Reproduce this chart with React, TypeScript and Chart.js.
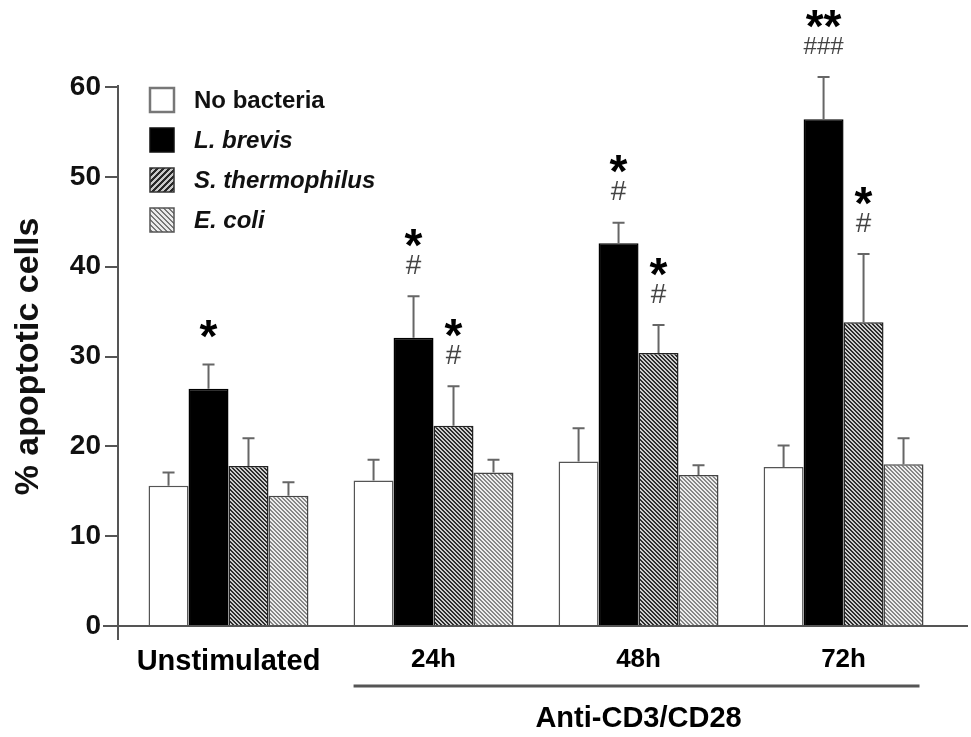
import React, { useEffect, useRef } from "react";
import { Chart, registerables } from "chart.js";

Chart.register(...registerables);

// ---------------- data ----------------
const categories = ["Unstimulated", "24h", "48h", "72h"];
const seriesNames = ["No bacteria", "L. brevis", "S. thermophilus", "E. coli"];
const noBacteria = [15.6, 16.2, 18.3, 17.7];
const lBrevis = [26.4, 32.1, 42.6, 56.4];
const sThermophilus = [17.8, 22.3, 30.4, 33.8];
const eColi = [14.5, 17.1, 16.8, 18.0];
const noBacteriaErr = [1.5, 2.3, 3.7, 2.4];
const lBrevisErr = [2.7, 4.6, 2.3, 4.7];
const sThermophilusErr = [3.1, 4.4, 3.1, 7.6];
const eColiErr = [1.5, 1.4, 1.1, 2.9];
const lBrevisStars = ["*", "*", "*", "**"];
const lBrevisHashes = ["", "#", "#", "###"];
const sThermophilusStars = ["", "*", "*", "*"];
const sThermophilusHashes = ["", "#", "#", "#"];
const yTicks = [0, 10, 20, 30, 40, 50, 60];
const yTitle = "% apoptotic cells";
const groupTitle = "Anti-CD3/CD28";

const FONT = "'Liberation Sans', Arial, sans-serif";

function stripePattern(
  ctx: CanvasRenderingContext2D,
  fg: number[],
  bg: number[],
  period: number,
  thick: number,
  dir: number
) {
  const c = document.createElement("canvas");
  c.width = period;
  c.height = period;
  const g = c.getContext("2d")!;
  const img = g.createImageData(period, period);
  for (let y = 0; y < period; y++) {
    for (let x = 0; x < period; x++) {
      const k = dir > 0 ? (x + y) % period : (((x - y) % period) + period) % period;
      const col = k < thick ? fg : bg;
      const o = (y * period + x) * 4;
      img.data[o] = col[0];
      img.data[o + 1] = col[1];
      img.data[o + 2] = col[2];
      img.data[o + 3] = 255;
    }
  }
  g.putImageData(img, 0, 0);
  return ctx.createPattern(c, "repeat")!;
}

export default function App() {
  const ref = useRef<HTMLCanvasElement>(null);

  useEffect(() => {
    const canvas = ref.current!;
    const ctx = canvas.getContext("2d")!;
    const pThermo = stripePattern(ctx, [45, 45, 45], [205, 205, 205], 4, 2, -1);
    const pColi = stripePattern(ctx, [135, 135, 135], [238, 238, 238], 4, 2, -1);
    const lgThermo = stripePattern(ctx, [40, 40, 40], [200, 200, 200], 6, 3, 1);
    const lgColi = stripePattern(ctx, [120, 120, 120], [235, 235, 235], 5, 2, -1);

    const values = [noBacteria, lBrevis, sThermophilus, eColi];
    const errs = [noBacteriaErr, lBrevisErr, sThermophilusErr, eColiErr];
    const fills: any[] = ["#ffffff", "#000000", pThermo, pColi];
    const borders = ["#555555", "#000000", "#222222", "#444444"];
    const legendFills: any[] = ["#ffffff", "#000000", lgThermo, lgColi];
    const legendBorders = ["#777777", "#111111", "#333333", "#555555"];

    const overlay = {
      id: "overlay",
      afterDatasetsDraw(chart: any) {
        const c = chart.ctx as CanvasRenderingContext2D;
        const ys = chart.scales.y;
        const xs = chart.scales.x;
        const y0 = ys.getPixelForValue(0);
        const yTop = ys.getPixelForValue(60);
        const left = chart.chartArea.left;
        c.save();
        // error bars
        c.strokeStyle = "#666";
        c.lineWidth = 2;
        values.forEach((vals, di) => {
          const meta = chart.getDatasetMeta(di);
          vals.forEach((v, i) => {
            const el = meta.data[i];
            const yb = ys.getPixelForValue(v);
            const ye = ys.getPixelForValue(v + errs[di][i]);
            c.beginPath();
            c.moveTo(el.x, yb);
            c.lineTo(el.x, ye);
            c.moveTo(el.x - 6, ye);
            c.lineTo(el.x + 6, ye);
            c.stroke();
          });
        });
        // significance marks
        const marks: [number, string[], string[]][] = [
          [1, lBrevisStars, lBrevisHashes],
          [2, sThermophilusStars, sThermophilusHashes],
        ];
        c.textAlign = "center";
        c.textBaseline = "alphabetic";
        marks.forEach(([di, stars, hashes]) => {
          const meta = chart.getDatasetMeta(di);
          stars.forEach((s, i) => {
            const el = meta.data[i];
            const ye = ys.getPixelForValue(values[di][i] + errs[di][i]);
            const h = hashes[i];
            if (h) {
              const hc = ye - 32;
              const hs = h.length > 2 ? 24 : 28;
              c.fillStyle = "#444";
              c.font = `${hs}px ${FONT}`;
              c.fillText(h, el.x, hc + 0.35 * hs);
            }
            if (s) {
              const sc = h ? ye - 62 : ye - 39;
              c.fillStyle = "#000";
              c.font = `bold 46px ${FONT}`;
              c.fillText(s, el.x, sc + 0.58 * 46);
            }
          });
        });
        // axes
        c.strokeStyle = "#555";
        c.lineWidth = 2;
        c.beginPath();
        c.moveTo(left, yTop - 2);
        c.lineTo(left, y0 + 14);
        c.moveTo(left - 15, y0);
        c.lineTo(xs.right, y0);
        c.stroke();
        // group bracket line + label
        const m0 = chart.getDatasetMeta(0).data[1];
        const m3 = chart.getDatasetMeta(3).data[3];
        const gx0 = m0.x - m0.width / 2;
        const gx1 = m3.x + m3.width / 2 - 4;
        c.strokeStyle = "#555";
        c.lineWidth = 3;
        c.beginPath();
        c.moveTo(gx0, y0 + 60);
        c.lineTo(gx1, y0 + 60);
        c.stroke();
        c.fillStyle = "#000";
        c.font = `bold 29px ${FONT}`;
        c.textBaseline = "middle";
        c.fillText(groupTitle, (gx0 + gx1) / 2 + 2, y0 + 93);
        // legend
        const lx = left + 32;
        seriesNames.forEach((name, i) => {
          const cy = yTop + 13 + i * 40;
          c.fillStyle = legendFills[i];
          c.fillRect(lx, cy - 12, 24, 24);
          c.strokeStyle = legendBorders[i];
          c.lineWidth = i === 0 ? 2.5 : 1.5;
          c.strokeRect(lx, cy - 12, 24, 24);
          c.fillStyle = "#111";
          c.textAlign = "left";
          c.textBaseline = "middle";
          c.font = `${i === 0 ? "" : "italic "}bold 24px ${FONT}`;
          c.fillText(name, lx + 44, cy + 1);
        });
        c.restore();
      },
    };

    const chart = new Chart(canvas, {
      type: "bar",
      data: {
        datasets: values.map((vals, di) => ({
          label: seriesNames[di],
          data: vals.map((v, i) => ({ x: i, y: v })),
          backgroundColor: fills[di],
          borderColor: borders[di],
          borderWidth: 1.5,
          categoryPercentage: 0.78,
          barPercentage: 1,
        })),
      },
      options: {
        responsive: false,
        animation: false,
        devicePixelRatio: 1,
        layout: { padding: { top: 87, right: 3, left: 0, bottom: 0 } },
        plugins: { legend: { display: false }, tooltip: { enabled: false } },
        scales: {
          x: {
            type: "linear",
            min: -0.539,
            max: 3.607,
            offset: false,
            grid: { display: false, drawTicks: false },
            border: { display: false },
            afterBuildTicks: (s: any) => {
              s.ticks = categories.map((_, i) => ({ value: i }));
            },
            afterFit: (s: any) => {
              s.height = 111;
            },
            ticks: {
              autoSkip: false,
              maxRotation: 0,
              minRotation: 0,
              padding: 21,
              color: "#000",
              font: (ctx: any) =>
                ctx.index === 0
                  ? { family: FONT, size: 29, weight: "bold", lineHeight: 1 }
                  : { family: FONT, size: 26, weight: "bold", lineHeight: 1 },
              callback: (v: any) => categories[v] ?? "",
            },
          },
          y: {
            min: 0,
            max: 60,
            afterBuildTicks: (s: any) => {
              s.ticks = yTicks.map((v) => ({ value: v }));
            },
            afterFit: (s: any) => {
              s.width = 118;
            },
            grid: {
              drawOnChartArea: false,
              drawTicks: true,
              tickLength: 13,
              color: "#555",
              lineWidth: 2,
            },
            border: { display: false },
            ticks: {
              padding: 4,
              color: "#111",
              font: { family: FONT, size: 28, weight: "bold" },
            },
            title: {
              display: true,
              text: yTitle,
              color: "#111",
              font: { family: FONT, size: 34, weight: "bold", lineHeight: 1 },
              padding: { top: 12, bottom: 0 },
            },
          },
        },
      },
      plugins: [overlay],
    } as any);
    return () => chart.destroy();
  }, []);

  return (
    <div style={{ position: "fixed", left: 0, top: 0, width: 971, height: 737, background: "#fff" }}>
      <canvas ref={ref} width={971} height={737} style={{ display: "block" }} />
    </div>
  );
}
